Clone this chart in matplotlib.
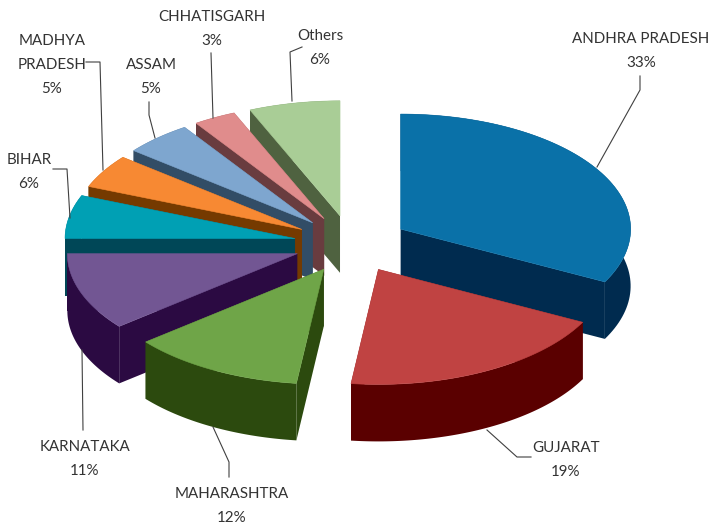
import numpy as np
import matplotlib
matplotlib.use("Agg")
import matplotlib.pyplot as plt
from matplotlib.patches import Polygon

states = ["ANDHRA PRADESH", "GUJARAT", "MAHARASHTRA", "KARNATAKA", "BIHAR",
          "MADHYA\nPRADESH", "ASSAM", "CHHATISGARH", "Others"]
shares = [32.6, 19.3, 12.2, 10.9, 6.1, 4.7, 4.8, 3.0, 6.4]
top_colors = ["#0A71A8", "#C04342", "#6FA548", "#725693", "#00A0B4",
              "#F78933", "#7EA6CF", "#E08C8C", "#A9CD96"]
wall_colors = ["#002B4F", "#5A0000", "#2C4A0E", "#2B0A42", "#004757",
               "#753A00", "#324D66", "#693C3F", "#4F6240"]
label_centers = [(641, 51), (566, 460), (232, 506), (85, 459), (29, 172),
                 (52, 65), (151, 77), (212, 29), (320, 48)]
leaders = [[(640, 76), (640, 90), (597, 167)],
           [(487, 430), (517, 457), (531, 457)],
           [(213, 427), (229, 462), (229, 477)],
           [(82, 350), (83, 430)],
           [(53, 169), (67, 169), (70, 218)],
           [(86, 62), (100, 62), (103, 170)],
           [(149, 102), (149, 115), (155, 138)],
           [(211, 53), (213, 118)],
           [(302, 47), (290, 52), (292, 101)]]
draw_order = [8, 7, 6, 5, 4, 3, 2, 0, 1]

CX, CY, RX, RY = 351.5, 244, 230, 115
EXPLODE, DEPTH = 0.25, 57

fig = plt.figure(figsize=(7.11, 5.25), dpi=100)
ax = fig.add_axes([0, 0, 1, 1])
ax.set_xlim(0, 711)
ax.set_ylim(525, 0)
ax.axis("off")

edges = np.concatenate([[0], np.cumsum(shares)]) / sum(shares) * 2 * np.pi
z = 1
for i in draw_order:
    a0, a1 = edges[i], edges[i + 1]
    mid = (a0 + a1) / 2
    ax0 = CX + EXPLODE * RX * np.sin(mid)
    ay0 = CY - EXPLODE * RY * np.cos(mid)
    t = np.linspace(a0, a1, 80)
    arc = np.column_stack([ax0 + RX * np.sin(t), ay0 - RY * np.cos(t)])
    apex = np.array([[ax0, ay0]])
    down = np.array([0, DEPTH])
    radial = [np.vstack([apex, arc[:1], arc[:1] + down, apex + down]),
              np.vstack([apex, arc[-1:], arc[-1:] + down, apex + down])]
    for w in radial:
        ax.add_patch(Polygon(w, closed=True, fc=wall_colors[i], ec="none", zorder=z))
    ax.add_patch(Polygon(np.vstack([arc, (arc + down)[::-1]]), closed=True,
                         fc=wall_colors[i], ec="none", zorder=z))
    z += 1
    ax.add_patch(Polygon(np.vstack([apex, arc]), closed=True, fc=top_colors[i],
                         ec=top_colors[i], lw=0.4, zorder=z))
    z += 1

for s, v, (lx, ly), pts in zip(states, shares, label_centers, leaders):
    ax.text(lx, ly, f"{s}\n{v:.0f}%", ha="center", va="center", family="Lato",
            fontsize=10.9, color="#333333", linespacing=1.92, zorder=100)
    p = np.array(pts)
    ax.plot(p[:, 0], p[:, 1], color="#404040", lw=0.8, zorder=99)

fig.savefig("out.png", dpi=100)
